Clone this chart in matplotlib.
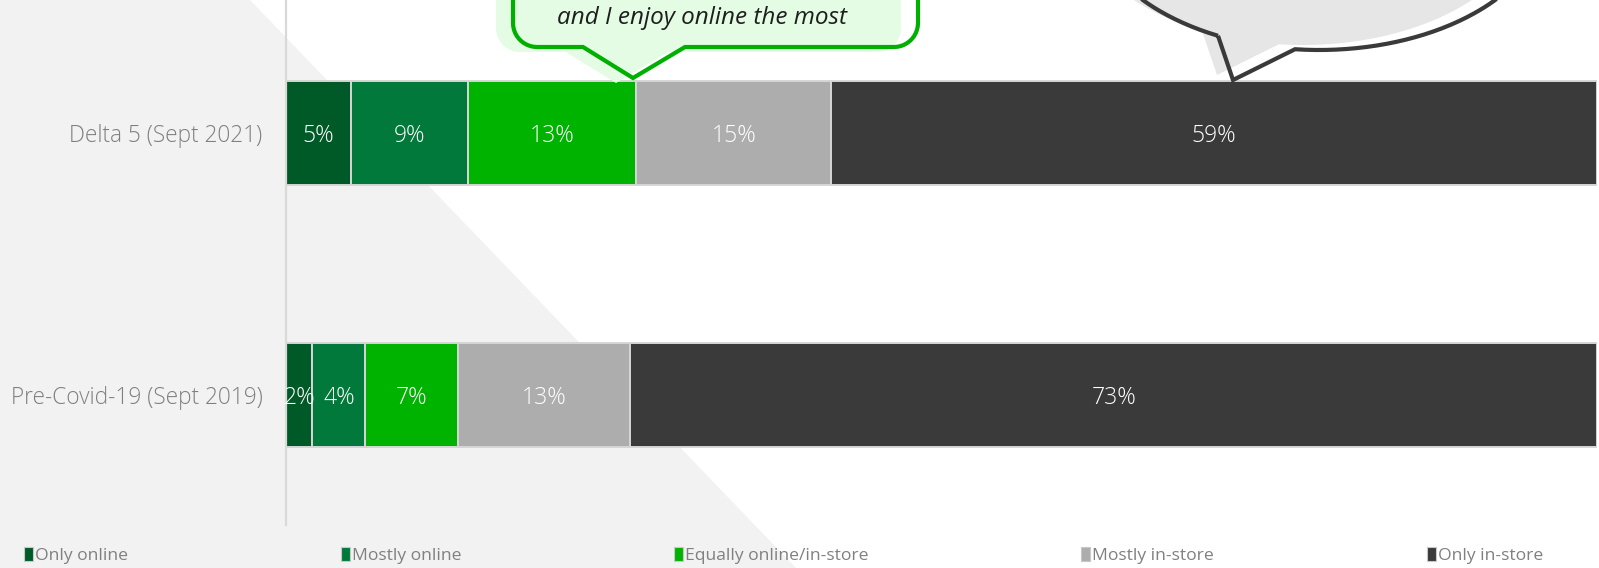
import numpy as np
import matplotlib
matplotlib.use("Agg")
import matplotlib.pyplot as plt
from matplotlib.path import Path
from matplotlib.patches import PathPatch, Polygon
from matplotlib.transforms import Affine2D

plt.rcParams['font.family'] = ['Open Sans', 'DejaVu Sans']

# ---- data -------------------------------------------------------------
categories = ["Delta 5 (Sept 2021)", "Pre-Covid-19 (Sept 2019)"]
series = ["Only online", "Mostly online", "Equally online/in-store",
          "Mostly in-store", "Only in-store"]
values = {
    "Only online":             [5, 2],
    "Mostly online":           [9, 4],
    "Equally online/in-store": [13, 7],
    "Mostly in-store":         [15, 13],
    "Only in-store":           [59, 73],
}
colors = ["#005a27", "#00793a", "#00b300", "#adadad", "#3a3a3a"]
quote_text = "and I enjoy online the most"

# ---- figure -----------------------------------------------------------
W, H = 1599, 568
fig = plt.figure(figsize=(W / 100, H / 100), dpi=100)
fig.patch.set_facecolor("white")

# helper transform: pixel coordinates measured from the top-left corner
px = Affine2D().scale(1 / W, -1 / H).translate(0, 1) + fig.transFigure

# diagonal light-grey background panel
bg = Polygon([(0, 0), (250, 0), (796, H), (0, H)], closed=True,
             facecolor="#f2f2f2", edgecolor="none", transform=px, zorder=-5)
fig.patches.append(bg)

ax = fig.add_axes([286 / W, 1 - 525 / H, (1597 - 286) / W, 525 / H])
ax.set_facecolor("none")

vals = np.array([values[s] for s in series], dtype=float)
shares = vals / vals.sum(axis=0) * 100
ypos = np.arange(len(categories))
left = np.zeros(len(categories))
for i, s in enumerate(series):
    ax.barh(ypos, shares[i], left=left, height=0.4, color=colors[i],
            edgecolor="#d6d6d6", linewidth=1.4, label=s, zorder=2)
    for j in range(len(categories)):
        ax.text(left[j] + shares[i][j] / 2, ypos[j], f"{int(vals[i][j])}%",
                ha="center", va="center_baseline", color="white", fontsize=16.5,
                fontweight="light", zorder=3)
    left += shares[i]

ax.set_xlim(0, 100)
ax.set_ylim(1.496, -0.508)
ax.set_yticks(ypos)
ax.set_yticklabels(categories, color="#7f7f7f", fontsize=16.3, fontweight="light")
ax.tick_params(axis="y", length=0, pad=17)
ax.set_xticks([])
for sp in ["top", "right", "bottom"]:
    ax.spines[sp].set_visible(False)
ax.spines["left"].set_color("#d9d9d9")
ax.spines["left"].set_linewidth(1.6)

# legend along the bottom edge
leg = fig.legend(loc="center left", ncol=5, mode="expand",
                 bbox_to_anchor=(24 / W, 1 - 556 / H, (1543 - 24) / W, 0.001),
                 frameon=False, fontsize=12.6, handlelength=0.5,
                 handleheight=0.8, handletextpad=0.12, borderpad=0,
                 borderaxespad=0, columnspacing=1.0, labelcolor="#808080")
for h in leg.legend_handles:
    h.set_edgecolor("#c8c8c8")
    h.set_linewidth(0.8)


# ---- speech bubbles ---------------------------------------------------
def rounded_bubble(x0, x1, y0, y1, r, tail):
    """Rounded rectangle with a downward tail, in top-left pixel coords."""
    pts = []
    def arc(cx, cy, a0, a1):
        t = np.linspace(np.radians(a0), np.radians(a1), 12)
        return list(zip(cx + r * np.cos(t), cy + r * np.sin(t)))
    pts += arc(x0 + r, y0 + r, 180, 270)
    pts += arc(x1 - r, y0 + r, 270, 360)
    pts += arc(x1 - r, y1 - r, 0, 90)
    ta, tip, tb = tail
    pts += [(tb, y1), tip, (ta, y1)]
    pts += arc(x0 + r, y1 - r, 90, 180)
    pts.append(pts[0])
    return np.array(pts)


def oval_bubble(cx, cy, a, b, tail_a, tip, tail_b):
    """Ellipse outline with a tail between x=tail_a and x=tail_b (lower side)."""
    th_a = np.arccos((tail_a - cx) / a)
    th_b = np.arccos((tail_b - cx) / a)
    t = np.linspace(th_a, th_b + 2 * np.pi, 400)
    pts = list(zip(cx + a * np.cos(t), cy + b * np.sin(t)))
    pts.append(tip)
    pts.append(pts[0])
    return np.array(pts)


# green quote bubble
gb = rounded_bubble(513, 918, -80, 47, 24, (583, (633, 78), 685))
shadow = PathPatch(Path(gb + np.array([-17, 5])), facecolor="#e4fbe4",
                   edgecolor="none", transform=px, zorder=4)
outline = PathPatch(Path(gb), facecolor="none", edgecolor="#00b000",
                    linewidth=3.0, joinstyle="miter", transform=px, zorder=5)
fig.patches.extend([shadow, outline])
fig.text(702 / W, 1 - 18 / H, quote_text, ha="center", va="center",
         style="italic", fontsize=17.5, color="#1e1e1e", zorder=6)

# grey oval bubble
ob = oval_bubble(1319, -90, 230, 140, 1218, (1233, 80), 1295)
oshadow = PathPatch(Path(ob + np.array([-16, -5])), facecolor="#e6e6e6",
                    edgecolor="none", transform=px, zorder=4)
ooutline = PathPatch(Path(ob), facecolor="none", edgecolor="#3a3a3a",
                     linewidth=3.0, joinstyle="miter", transform=px, zorder=5)
fig.patches.extend([oshadow, ooutline])

fig.savefig("out.png", dpi=100)
